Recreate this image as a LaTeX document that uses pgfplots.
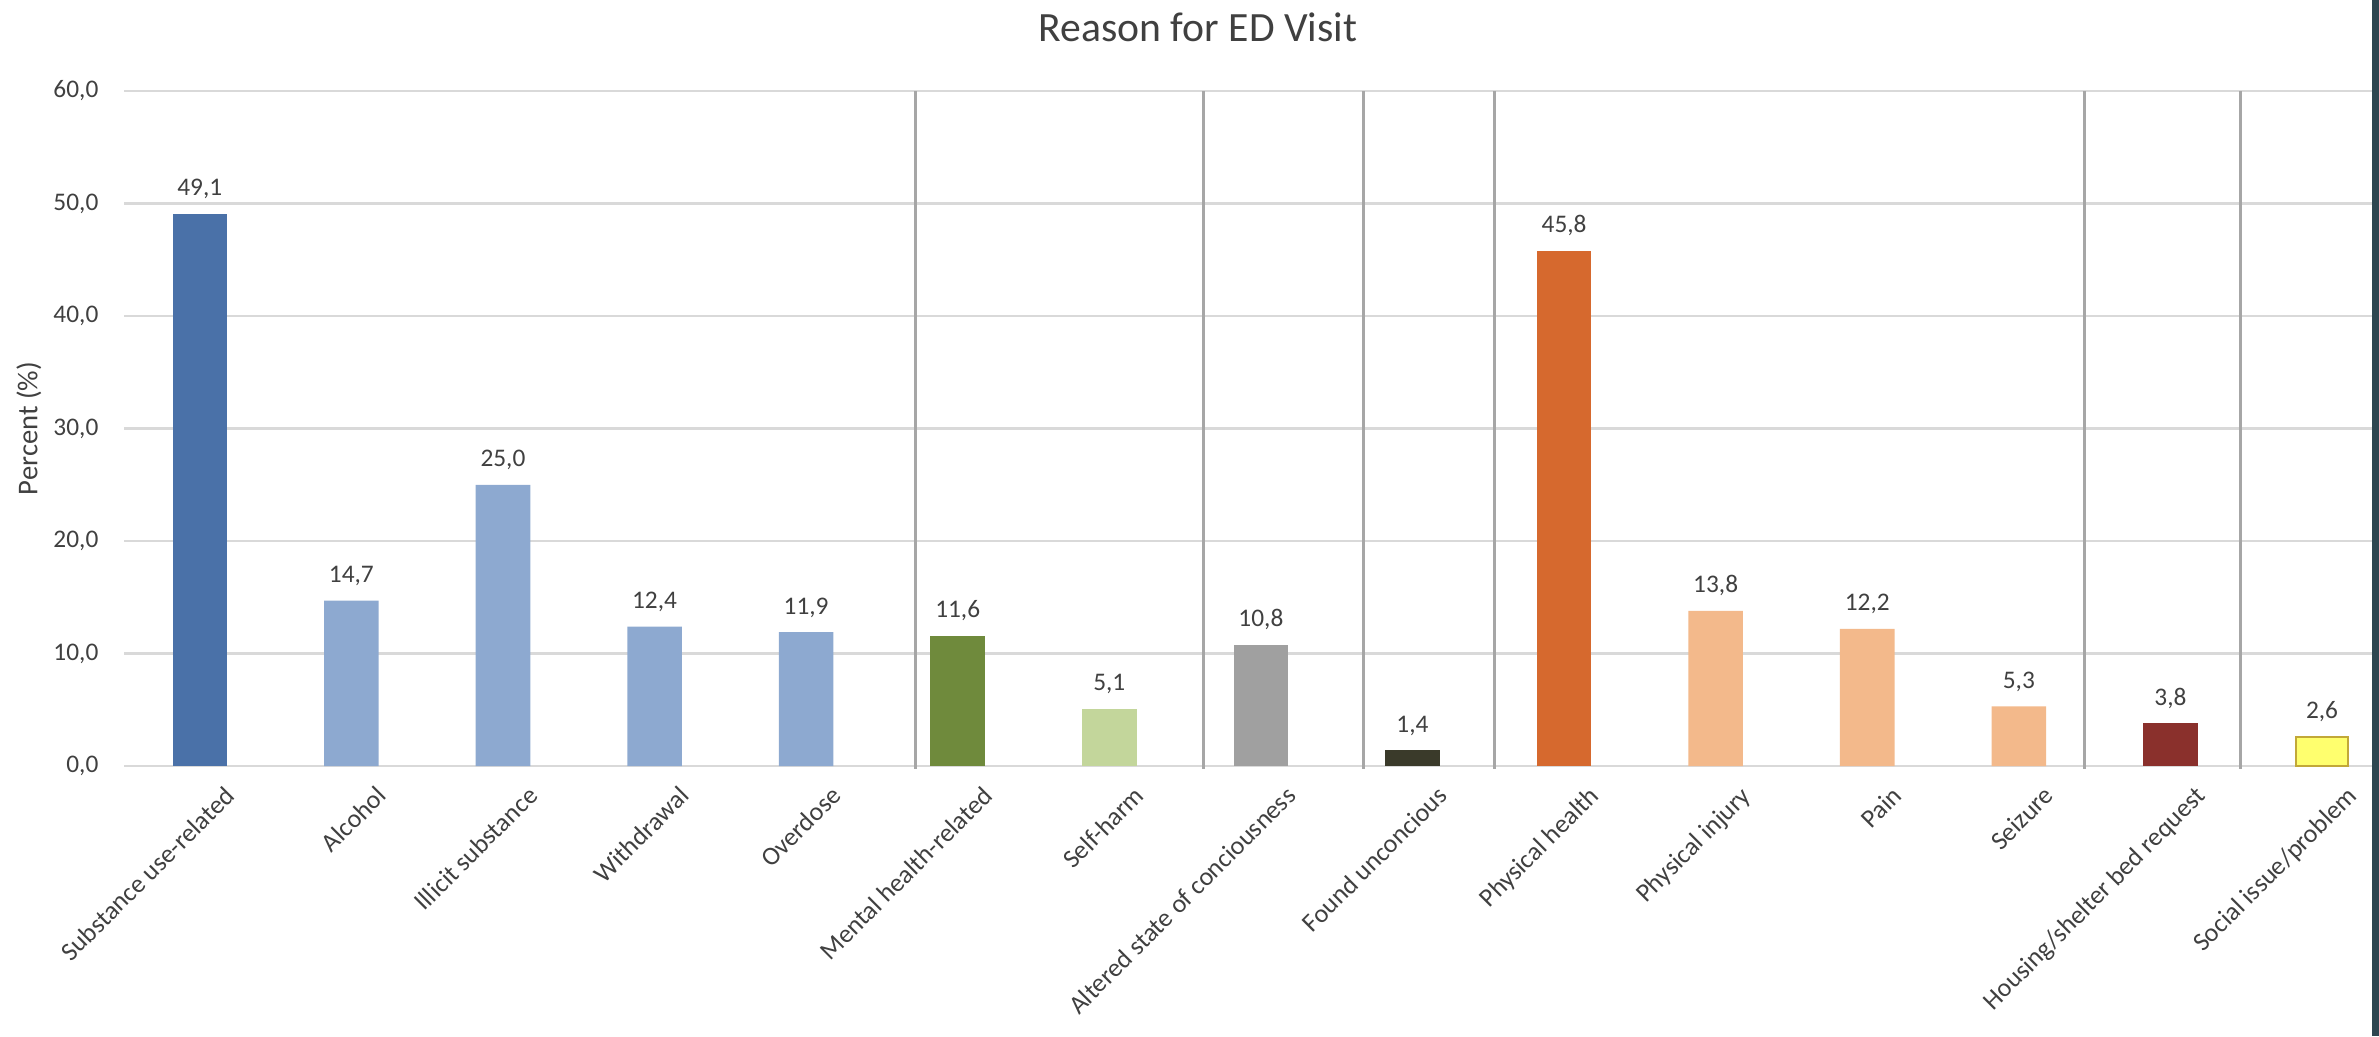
\documentclass[border=0pt]{standalone}
\usepackage{fontspec}
\setmainfont{Carlito}
\usepackage{pgfplots}
\pgfplotsset{compat=1.18}
\usetikzlibrary{calc}

\definecolor{cDarkBlue}{HTML}{4A71A8}
\definecolor{cLightBlue}{HTML}{8DA9D0}
\definecolor{cOlive}{HTML}{6F8A3C}
\definecolor{cLightGreen}{HTML}{C3D69B}
\definecolor{cGray}{HTML}{A0A0A0}
\definecolor{cBlack}{HTML}{3A3A2A}
\definecolor{cOrange}{HTML}{D6692E}
\definecolor{cPeach}{HTML}{F3B98B}
\definecolor{cDarkRed}{HTML}{8A302C}
\definecolor{cYellow}{HTML}{FFFF6E}
\definecolor{cYellowEdge}{HTML}{C2A838}
\definecolor{cGrid}{HTML}{D9D9D9}
\definecolor{cSep}{HTML}{A6A6A6}
\definecolor{cText}{HTML}{404040}
\definecolor{cStrip}{HTML}{2E4650}

\begin{document}
\begin{tikzpicture}
\begin{axis}[
  name=ax,
  scale only axis,
  width=674.4pt, height=202.5pt,
  xmin=-0.5, xmax=14.33,
  ymin=0, ymax=60,
  clip=false,
  axis x line*=bottom, axis y line*=left,
  axis line style={draw=none},
  major tick length=0pt,
  ytick={0,10,20,30,40,50,60},
  yticklabels={{0,0},{10,0},{20,0},{30,0},{40,0},{50,0},{60,0}},
  xtick={0,1,2,3,4,5,6,7,8,9,10,11,12,13,14},
  xticklabels={Substance use-related, Alcohol, Illicit substance, Withdrawal, Overdose, Mental health-related, Self-harm, Altered state of conciousness, Found unconcious, Physical health, Physical injury, Pain, Seizure, Housing/shelter bed request, Social issue/problem},
  ymajorgrids,
  major grid style={cGrid, line width=0.8pt},
  yticklabel style={font=\fontsize{7.6}{9}\selectfont, text=cText, anchor=east, inner sep=0pt, xshift=-7.5pt},
  xticklabel style={font=\fontsize{7.8}{9}\selectfont, text=cText, rotate=45, anchor=north east, inner sep=0pt, xshift=1.2pt, yshift=-8.8pt},
  ylabel={Percent (\%)},
  every axis y label/.style={at={(axis description cs:0,0.5)}, xshift=-28.5pt, rotate=90, anchor=center, font=\fontsize{8.6}{10}\selectfont, text=cText},
  nodes near coords={\pgfmathprintnumber[fixed,fixed zerofill,precision=1,use comma,assume math mode=true]{\pgfplotspointmeta}},
  nodes near coords style={font=\fontsize{7.6}{9}\selectfont, text=cText, anchor=base, inner sep=0pt, yshift=5.4pt},
]
% group separators
\addplot[cSep, line width=0.9pt, sharp plot, mark=none, forget plot, nodes near coords={}] coordinates {(4.724,-0.25) (4.724,60)};
\addplot[cSep, line width=0.9pt, sharp plot, mark=none, forget plot, nodes near coords={}] coordinates {(6.622,-0.25) (6.622,60)};
\addplot[cSep, line width=0.9pt, sharp plot, mark=none, forget plot, nodes near coords={}] coordinates {(7.676,-0.25) (7.676,60)};
\addplot[cSep, line width=0.9pt, sharp plot, mark=none, forget plot, nodes near coords={}] coordinates {(8.541,-0.25) (8.541,60)};
\addplot[cSep, line width=0.9pt, sharp plot, mark=none, forget plot, nodes near coords={}] coordinates {(12.435,-0.25) (12.435,60)};
\addplot[cSep, line width=0.9pt, sharp plot, mark=none, forget plot, nodes near coords={}] coordinates {(13.463,-0.25) (13.463,60)};
% bars
\addplot[ybar, bar width=0.36, bar shift=0pt, fill=cDarkBlue, draw=none] coordinates {(0,49.1)};
\addplot[ybar, bar width=0.36, bar shift=0pt, fill=cLightBlue, draw=none] coordinates {(1,14.7) (2,25.0) (3,12.4) (4,11.9)};
\addplot[ybar, bar width=0.36, bar shift=0pt, fill=cOlive, draw=none] coordinates {(5,11.6)};
\addplot[ybar, bar width=0.36, bar shift=0pt, fill=cLightGreen, draw=none] coordinates {(6,5.1)};
\addplot[ybar, bar width=0.36, bar shift=0pt, fill=cGray, draw=none] coordinates {(7,10.8)};
\addplot[ybar, bar width=0.36, bar shift=0pt, fill=cBlack, draw=none] coordinates {(8,1.4)};
\addplot[ybar, bar width=0.36, bar shift=0pt, fill=cOrange, draw=none] coordinates {(9,45.8)};
\addplot[ybar, bar width=0.36, bar shift=0pt, fill=cPeach, draw=none] coordinates {(10,13.8) (11,12.2) (12,5.3)};
\addplot[ybar, bar width=0.36, bar shift=0pt, fill=cDarkRed, draw=none] coordinates {(13,3.8)};
\addplot[ybar, bar width=0.34, bar shift=0pt, fill=cYellow, draw=cYellowEdge, line width=0.7pt] coordinates {(14,2.6)};
\end{axis}
\node[anchor=base, font=\fontsize{12.5}{14}\selectfont, text=cText] at ($(ax.north west)+(322.2pt,15pt)$) {Reason for ED Visit};
\fill[cStrip] ($(ax.south east)+(0pt,-81pt)$) rectangle ($(ax.north east)+(2.1pt,27.3pt)$);
\pgfresetboundingbox
\path[use as bounding box] ($(ax.south west)+(-37.2pt,-81pt)$) rectangle ($(ax.north east)+(2.1pt,27.3pt)$);
\end{tikzpicture}
\end{document}
